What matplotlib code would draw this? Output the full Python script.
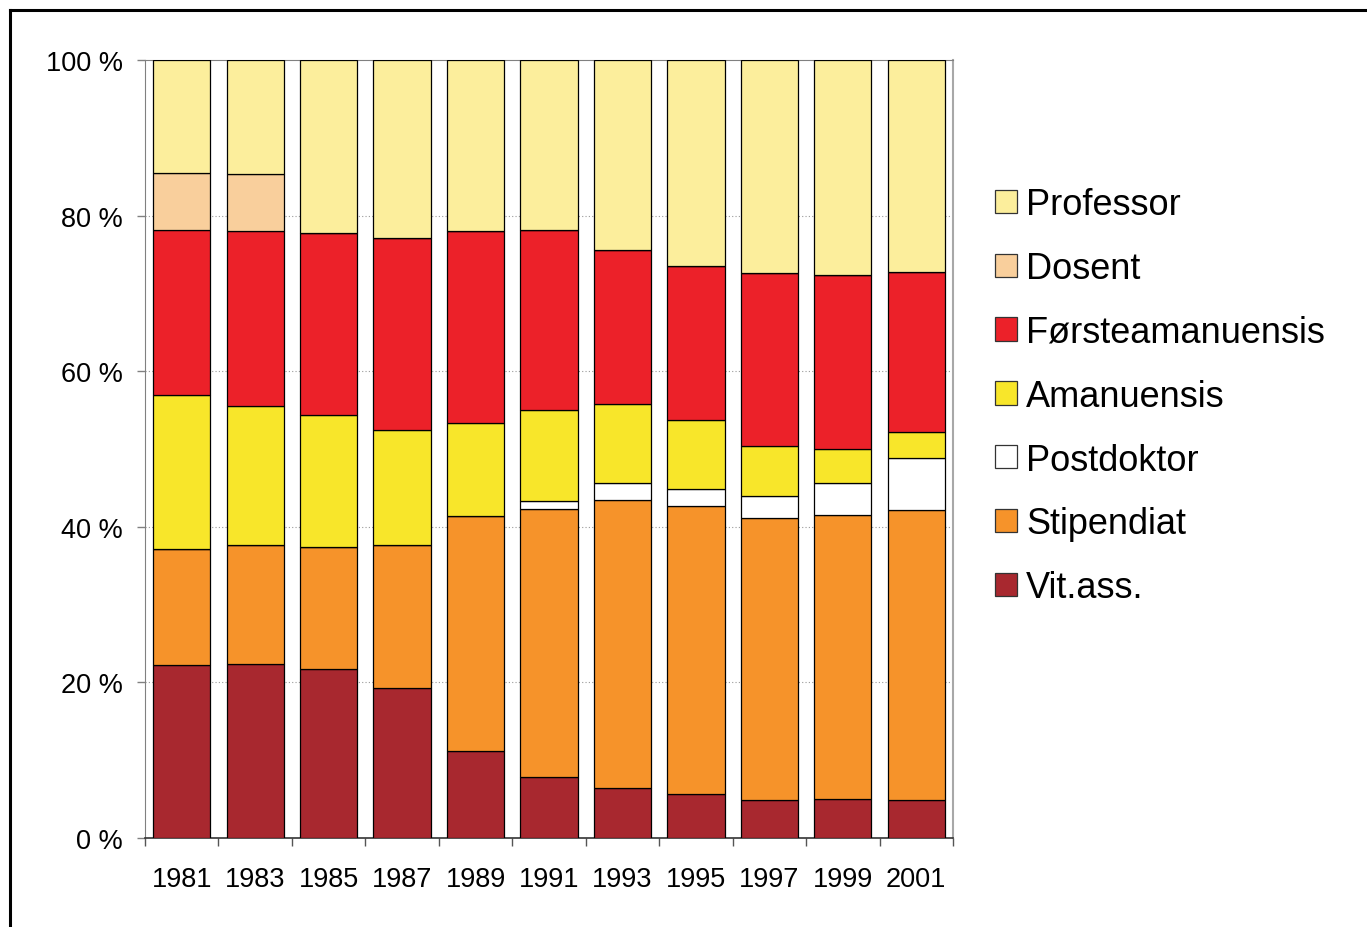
import numpy as np
import matplotlib
matplotlib.use('Agg')
import matplotlib.pyplot as plt
from matplotlib.lines import Line2D
from matplotlib.patches import Patch

plt.rcParams['font.family'] = ['Liberation Sans', 'DejaVu Sans']

years = ['1981', '1983', '1985', '1987', '1989', '1991', '1993', '1995', '1997', '1999', '2001']

# shares in percent, bottom to top
vit_ass = [22.2, 22.4, 21.7, 19.3, 11.2, 7.8, 6.4, 5.7, 4.9, 5.0, 4.9]
stipendiat = [14.9, 15.3, 15.7, 18.4, 30.2, 34.5, 37.0, 37.0, 36.2, 36.5, 37.3]
postdoktor = [0, 0, 0, 0, 0, 1.0, 2.2, 2.2, 2.9, 4.1, 6.6]
amanuensis = [19.8, 17.8, 17.0, 14.7, 11.9, 11.7, 10.2, 8.8, 6.4, 4.4, 3.4]
forsteaman = [21.2, 22.5, 23.4, 24.7, 24.7, 23.1, 19.8, 19.8, 22.2, 22.4, 20.6]
dosent = [7.4, 7.3, 0, 0, 0, 0, 0, 0, 0, 0, 0]
professor = [14.5, 14.7, 22.2, 22.9, 22.0, 21.9, 24.4, 26.5, 27.4, 27.6, 27.2]

series = [
    ('Vit.ass.', vit_ass, '#A8282F'),
    ('Stipendiat', stipendiat, '#F6932A'),
    ('Postdoktor', postdoktor, '#FFFFFF'),
    ('Amanuensis', amanuensis, '#F8E62A'),
    ('Førsteamanuensis', forsteaman, '#EC2129'),
    ('Dosent', dosent, '#F9CF9C'),
    ('Professor', professor, '#FCEE9C'),
]

fig = plt.figure(figsize=(13.67, 9.28), dpi=100)
ax = fig.add_axes([145/1367, 1 - 839/928, 808/1367, 778/928])

x = np.arange(len(years))
bottom = np.zeros(len(years))
for name, vals, col in series:
    vals = np.array(vals, dtype=float)
    ax.bar(x, vals, bottom=bottom, width=0.78, color=col,
           edgecolor='black', linewidth=0.9, zorder=3)
    bottom += vals

ax.set_xlim(-0.5, len(years) - 0.5)
ax.set_ylim(0, 100)
ax.set_yticks([0, 20, 40, 60, 80, 100])
ax.set_yticklabels(['0 %', '20 %', '40 %', '60 %', '80 %', '100 %'], fontsize=19.5)
ax.set_xticks(x)
ax.set_xticklabels(years, fontsize=19.5)
ax.set_xticks(np.arange(len(years) + 1) - 0.5, minor=True)

ax.tick_params(axis='x', which='major', length=0, pad=20)
ax.tick_params(axis='x', which='minor', length=6, width=1, color='#555555')
ax.tick_params(axis='y', length=6, width=1, color='#808080', pad=10)

for y in [20, 40, 60, 80]:
    ax.axhline(y, color='#999999', linestyle=(0, (1, 2)), linewidth=0.8, zorder=1)

ax.spines['left'].set_color('#808080')
ax.spines['top'].set_color('#808080')
ax.spines['right'].set_color('#A8A8A8')
ax.spines['right'].set_linewidth(1.5)
ax.spines['bottom'].set_color('#333333')
ax.spines['bottom'].set_linewidth(1.2)

handles = [Patch(facecolor=col, edgecolor='#333333', linewidth=0.9, label=name)
           for name, vals, col in reversed(series)]
fig.legend(handles=handles, loc='upper left', bbox_to_anchor=(995/1367, 1 - 188/928),
           frameon=False, fontsize=26, handlelength=0.61, handleheight=0.61,
           handletextpad=0.25, labelspacing=0.8, borderpad=0, borderaxespad=0)

# outer frame
fig.add_artist(Line2D([10/1367, 1], [1 - 11/928, 1 - 11/928], color='black',
                      linewidth=2.2, transform=fig.transFigure))
fig.add_artist(Line2D([10/1367, 10/1367], [0, 1 - 11/928], color='black',
                      linewidth=2.2, transform=fig.transFigure))

fig.savefig('out.png', dpi=100)
